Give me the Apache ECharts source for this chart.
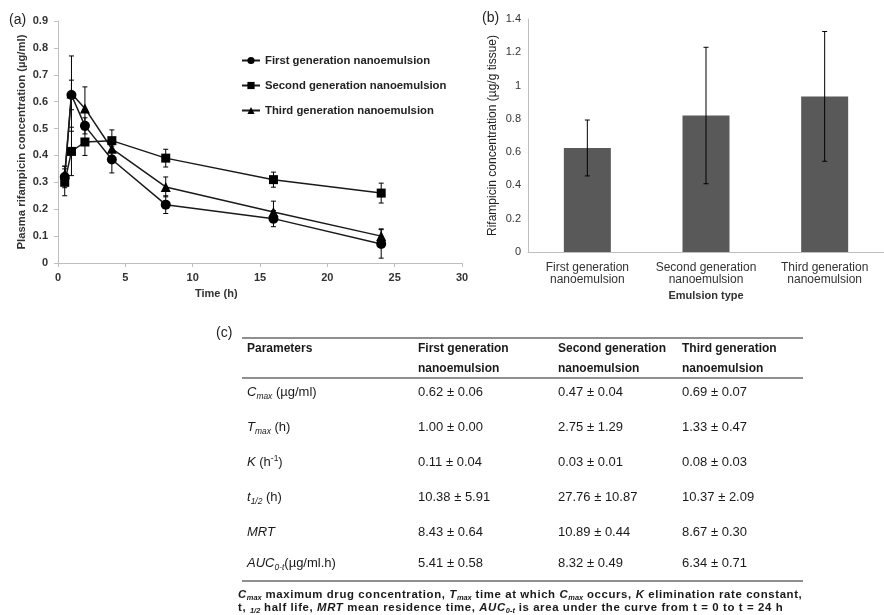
<!DOCTYPE html>
<html>
<head>
<meta charset="utf-8">
<script src="https://cdn.jsdelivr.net/npm/echarts@6/dist/echarts.min.js"></script>
<style>
  html, body { margin:0; padding:0; background:#fff; }
  #wrap { position:relative; width:884px; height:615px; overflow:hidden; }
  #chart { position:absolute; left:0; top:0; width:884px; height:615px; }
  #table { position:absolute; left:0; top:0; width:884px; height:615px; font-family:"Liberation Sans", Arial, sans-serif; color:#1a1a1a; pointer-events:none; }
  .t { position:absolute; white-space:nowrap; line-height:16px; height:16px; }
  .rule { position:absolute; height:2px; background:#8f8f8f; }
  .hd { font-weight:bold; font-size:12px; }
  .cell { font-size:13px; }
  .fn { font-weight:bold; font-size:11.4px; letter-spacing:0.62px; line-height:13px; height:13px; }
  sub { font-size:65%; vertical-align:-3px; line-height:0; }
  .fn sub { vertical-align:-2px; letter-spacing:0; }
  sup { font-size:65%; vertical-align:5px; line-height:0; }
</style>
</head>
<body>
<div id="wrap">
  <div id="chart"></div>
  <div id="table"></div>
</div>
<script>
// ---------- (a) plasma concentration vs time ----------
const times = [0.5, 1, 2, 4, 8, 16, 24];
const firstGen  = [0.32, 0.625, 0.51, 0.385, 0.217, 0.165, 0.071];
const firstErr  = [0.04, 0.055, 0.03, 0.05, 0.033, 0.03, 0.053];
const secondGen = [0.30, 0.415, 0.45, 0.455, 0.39, 0.31, 0.26];
const secondErr = [0.05, 0.09, 0.05, 0.04, 0.033, 0.028, 0.037];
const thirdGen  = [0.33, 0.63, 0.575, 0.425, 0.283, 0.19, 0.10];
const thirdErr  = [0.03, 0.14, 0.08, 0.03, 0.037, 0.04, 0.027];
const seriesNames = ['First generation nanoemulsion', 'Second generation nanoemulsion', 'Third generation nanoemulsion'];

// ---------- (b) tissue concentration ----------
const emulsionTypes = ['First generation\nnanoemulsion', 'Second generation\nnanoemulsion', 'Third generation\nnanoemulsion'];
const tissueConc = [0.625, 0.82, 0.935];
const tissueErr  = [0.168, 0.41, 0.39];

// ---------- (c) table ----------
const tableHeaders = ['Parameters', 'First generation', 'Second generation', 'Third generation'];
const paramMain = ['C', 'T', 'K', 't', 'MRT', 'AUC'];
const paramSub  = ['max', 'max', '', '1/2', '', '0-t'];
const paramUnit = ['(µg/ml)', '(h)', '(h-1)', '(h)', '', '(µg/ml.h)'];
const colFirst  = ['0.62 ± 0.06', '1.00 ± 0.00', '0.11 ± 0.04', '10.38 ± 5.91', '8.43 ± 0.64', '5.41 ± 0.58'];
const colSecond = ['0.47 ± 0.04', '2.75 ± 1.29', '0.03 ± 0.01', '27.76 ± 10.87', '10.89 ± 0.44', '8.32 ± 0.49'];
const colThird  = ['0.69 ± 0.07', '1.33 ± 0.47', '0.08 ± 0.03', '10.37 ± 2.09', '8.67 ± 0.30', '6.34 ± 0.71'];

const FONT = '"Liberation Sans", Arial, sans-serif';
const TXT = '#333';

function zip(xs, ys, es) { return xs.map((x, i) => [x, ys[i], es[i]]); }

function errRender(cap) {
  return function (params, api) {
    const x = api.value(0), y = api.value(1), e = api.value(2);
    const t = api.coord([x, y + e]);
    const b = api.coord([x, y - e]);
    const st = { stroke: '#000', lineWidth: 1 };
    return {
      type: 'group',
      children: [
        { type: 'line', shape: { x1: t[0], y1: t[1], x2: b[0], y2: b[1] }, style: st },
        { type: 'line', shape: { x1: t[0] - cap, y1: t[1], x2: t[0] + cap, y2: t[1] }, style: st },
        { type: 'line', shape: { x1: b[0] - cap, y1: b[1], x2: b[0] + cap, y2: b[1] }, style: st }
      ]
    };
  };
}

const symbols = ['circle', 'rect', 'triangle'];
const symSizes = [10, 9, 10];
const lineVals = [firstGen, secondGen, thirdGen];
const errVals = [firstErr, secondErr, thirdErr];

const series = [];
for (let i = 0; i < 3; i++) {
  series.push({
    type: 'custom', xAxisIndex: 0, yAxisIndex: 0, z: 1,
    renderItem: errRender(2.5),
    data: zip(times, lineVals[i], errVals[i]),
    silent: true
  });
}
for (let i = 0; i < 3; i++) {
  series.push({
    name: seriesNames[i], type: 'line', xAxisIndex: 0, yAxisIndex: 0, z: 3,
    data: times.map((t, j) => [t, lineVals[i][j]]),
    symbol: symbols[i], symbolSize: symSizes[i], showAllSymbol: true,
    itemStyle: { color: '#000' },
    lineStyle: { color: '#1a1a1a', width: 1.5 }
  });
}
series.push({
  type: 'bar', xAxisIndex: 1, yAxisIndex: 1, barWidth: 47,
  data: tissueConc, itemStyle: { color: '#595959' }, z: 2
});
series.push({
  type: 'custom', xAxisIndex: 1, yAxisIndex: 1, z: 4, silent: true,
  renderItem: errRender(2.5),
  data: tissueConc.map((v, i) => [i, v, tissueErr[i]])
});

const axisLineGray = { show: true, lineStyle: { color: '#bfbfbf', width: 1 } };

const option = {
  animation: false,
  textStyle: { fontFamily: FONT },
  grid: [
    { left: 58, top: 21, width: 404, height: 242 },
    { left: 528, top: 19, width: 366, height: 233 }
  ],
  legend: {
    data: seriesNames,
    orient: 'vertical', left: 236, top: 50,
    itemWidth: 18, itemHeight: 9, itemGap: 14,
    textStyle: { fontFamily: FONT, fontSize: 11.3, fontWeight: 'bold', color: '#222' }
  },
  xAxis: [
    {
      type: 'value', gridIndex: 0, min: 0, max: 30, interval: 5,
      axisLine: axisLineGray, axisTick: { show: true, length: 4, lineStyle: { color: '#bfbfbf' } },
      splitLine: { show: false },
      axisLabel: { fontFamily: FONT, fontSize: 11, fontWeight: 'bold', color: TXT, margin: 9 }
    },
    {
      type: 'category', gridIndex: 1, data: emulsionTypes,
      axisLine: axisLineGray, axisTick: { show: false },
      axisLabel: { interval: 0, fontFamily: FONT, fontSize: 12, color: TXT, margin: 10, lineHeight: 12 },
      name: 'Emulsion type', nameLocation: 'middle', nameGap: 38,
      nameTextStyle: { fontFamily: FONT, fontSize: 11, fontWeight: 'bold', color: TXT }
    }
  ],
  yAxis: [
    {
      type: 'value', gridIndex: 0, min: 0, max: 0.9, interval: 0.1,
      axisLine: axisLineGray, axisTick: { show: true, length: 4, lineStyle: { color: '#bfbfbf' } },
      splitLine: { show: false },
      axisLabel: { fontFamily: FONT, fontSize: 11, fontWeight: 'bold', color: TXT, margin: 10 },
      name: 'Plasma rifampicin concentration (µg/ml)', nameLocation: 'middle', nameGap: 31,
      nameTextStyle: { fontFamily: FONT, fontSize: 11.3, fontWeight: 'bold', color: TXT }
    },
    {
      type: 'value', gridIndex: 1, min: 0, max: 1.4, interval: 0.2,
      axisLine: axisLineGray, axisTick: { show: false },
      splitLine: { show: false },
      axisLabel: { fontFamily: FONT, fontSize: 11, color: TXT, margin: 7 },
      name: 'Rifampicin concentration (µg/g tissue)', nameLocation: 'middle', nameGap: 29,
      nameTextStyle: { fontFamily: FONT, fontSize: 12, color: '#222' }
    }
  ],
  graphic: [
    { type: 'text', left: 9, top: 13, style: { text: '(a)', font: '14px ' + FONT, fill: '#222' } },
    { type: 'text', left: 482, top: 11, style: { text: '(b)', font: '14px ' + FONT, fill: '#222' } },
    { type: 'text', left: 216, top: 326, style: { text: '(c)', font: '14px ' + FONT, fill: '#222' } },
    { type: 'text', left: 195, top: 288, style: { text: 'Time (h)', font: 'bold 11px ' + FONT, fill: TXT } }
  ],
  series: series
};

const chart = echarts.init(document.getElementById('chart'), null, { renderer: 'canvas' });
chart.setOption(option);

// ---------- table (c) ----------
const tbl = document.getElementById('table');
function place(x, cy, html, cls, h) {
  const d = document.createElement('div');
  d.className = 't ' + cls;
  d.style.left = x + 'px';
  d.style.top = (cy - (h || 16) / 2) + 'px';
  d.innerHTML = html;
  tbl.appendChild(d);
}
function rule(x1, x2, y) {
  const d = document.createElement('div');
  d.className = 'rule';
  d.style.left = x1 + 'px';
  d.style.width = (x2 - x1) + 'px';
  d.style.top = (y - 1) + 'px';
  tbl.appendChild(d);
}
const colX = [247, 418, 558, 682];
rule(242, 803, 338);
rule(242, 803, 378);
rule(242, 803, 581);
tableHeaders.forEach((h, i) => place(colX[i], 348, h, 'hd'));
for (let i = 1; i < 4; i++) place(colX[i], 368, 'nanoemulsion', 'hd');
const rowY = [392, 427, 462, 497, 532, 563];
function unitHtml(u) {
  return u.replace('h-1', 'h<sup>-1</sup>');
}
paramMain.forEach((m, i) => {
  let html = '<i>' + m + '</i>';
  if (paramSub[i]) html += '<sub><i>' + paramSub[i] + '</i></sub>';
  if (paramUnit[i]) html += (i === 5 ? '' : ' ') + unitHtml(paramUnit[i]);
  place(colX[0], rowY[i], html, 'cell');
  place(colX[1], rowY[i], colFirst[i], 'cell');
  place(colX[2], rowY[i], colSecond[i], 'cell');
  place(colX[3], rowY[i], colThird[i], 'cell');
});
place(238, 594, '<i>C<sub>max</sub></i> maximum drug concentration, <i>T<sub>max</sub></i> time at which <i>C<sub>max</sub></i> occurs, <i>K</i> elimination rate constant,', 'fn', 13);
place(238, 607, 't, <sub><i>1/2</i></sub> half life, <i>MRT</i> mean residence time, <i>AUC<sub>0-t</sub></i> is area under the curve from t = 0 to t = 24 h', 'fn', 13);
</script>
</body>
</html>
